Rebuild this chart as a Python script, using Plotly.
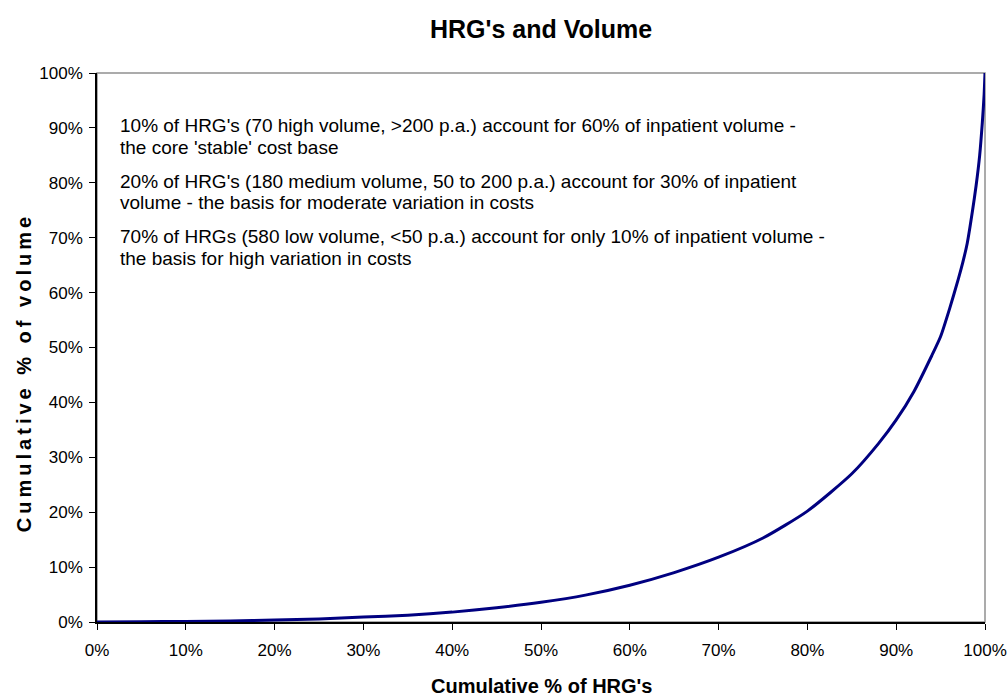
import plotly.graph_objects as go

# Cumulative % of HRG's (x) vs cumulative % of volume (y)
cum_hrg = [0, 5, 10, 15, 20, 25, 30, 35, 40, 45, 50, 55, 60, 65, 70, 75, 80, 85, 88, 90, 92, 94, 95, 96, 97, 97.5, 98, 98.6, 99, 99.4, 99.7, 99.9, 100]
cum_vol = [0, 0.05, 0.1, 0.2, 0.35, 0.55, 0.9, 1.25, 1.8, 2.6, 3.6, 4.9, 6.7, 9.0, 11.8, 15.3, 20.2, 27.0, 32.5, 36.8, 42.0, 48.5, 52.0, 57.0, 62.5, 65.5, 69.0, 75.0, 79.5, 85.0, 91.0, 96.0, 100]

x_ticks = [0, 10, 20, 30, 40, 50, 60, 70, 80, 90, 100]
y_ticks = [0, 10, 20, 30, 40, 50, 60, 70, 80, 90, 100]

note_lines = [
    "10% of HRG's (70 high volume, >200 p.a.) account for 60% of inpatient volume -",
    "the core 'stable' cost base",
    "20% of HRG's (180 medium volume, 50 to 200 p.a.) account for 30% of inpatient",
    "volume - the basis for moderate variation in costs",
    "70% of HRGs (580 low volume, <50 p.a.) account for only 10% of inpatient volume -",
    "the basis for high variation in costs",
]
note_y = [90.5, 86.5, 80.3, 76.4, 70.2, 66.3]

title_text = "HRG's and Volume"
x_title = "Cumulative % of HRG's"
y_title = "Cumulative % of volume"

FONT = "Arial, Liberation Sans, sans-serif"

fig = go.Figure()
fig.add_trace(go.Scatter(
    x=cum_hrg, y=cum_vol, mode="lines",
    line=dict(color="#000080", width=3, shape="spline", smoothing=0.6),
    showlegend=False, hoverinfo="skip",
))

for t, yy in zip(note_lines, note_y):
    fig.add_annotation(
        x=2.36, y=yy, xref="x", yref="y", text=t, showarrow=False,
        xanchor="left", yanchor="middle", align="left",
        font=dict(family=FONT, size=19, color="#000000"),
    )

# chart title
fig.add_annotation(
    x=0.5, y=1.081, xref="paper", yref="paper", text=f"<b>{title_text}</b>", showarrow=False,
    xanchor="center", yanchor="middle", font=dict(family=FONT, size=25, color="#000000"),
)
# x axis title
fig.add_annotation(
    x=0.5, y=-0.117, xref="paper", yref="paper", text=f"<b>{x_title}</b>", showarrow=False,
    xanchor="center", yanchor="middle", font=dict(family=FONT, size=20, color="#000000"),
)
# y axis title (letter-spaced)
spaced = "\u2009".join(list(y_title))
fig.add_annotation(
    x=-0.082, y=0.45, xref="paper", yref="paper", text=f"<b>{spaced}</b>", showarrow=False,
    xanchor="center", yanchor="middle", textangle=-90,
    font=dict(family=FONT, size=20, color="#000000"),
)

fig.update_layout(
    width=1008, height=696,
    margin=dict(l=97, r=23, t=73, b=74, autoexpand=False),
    paper_bgcolor="white", plot_bgcolor="white",
    font=dict(family=FONT, size=17, color="#000000"),
    shapes=[dict(type="rect", xref="paper", yref="paper", x0=0, y0=0, x1=1, y1=1,
                 line=dict(color="#909090", width=1.5), layer="below")],
)
fig.update_xaxes(
    range=[0, 100], tickvals=x_ticks, ticktext=[f"{v}%" for v in x_ticks],
    ticks="outside", ticklen=6, tickcolor="#000000", showgrid=False, zeroline=False,
    showline=True, linecolor="#000000", linewidth=1.5, automargin=False,
    tickfont=dict(size=17), ticklabelstandoff=6,
)
fig.update_yaxes(
    range=[0, 100], tickvals=y_ticks, ticktext=[f"{v}%" for v in y_ticks],
    ticks="outside", ticklen=6, tickcolor="#000000", showgrid=False, zeroline=False,
    showline=True, linecolor="#000000", linewidth=1.5, automargin=False,
    tickfont=dict(size=17), ticklabelstandoff=3,
)

fig.write_html(
    "out.html",
    config={"displayModeBar": False},
    post_script="document.body.style.margin='0';document.body.style.overflow='hidden';",
)
